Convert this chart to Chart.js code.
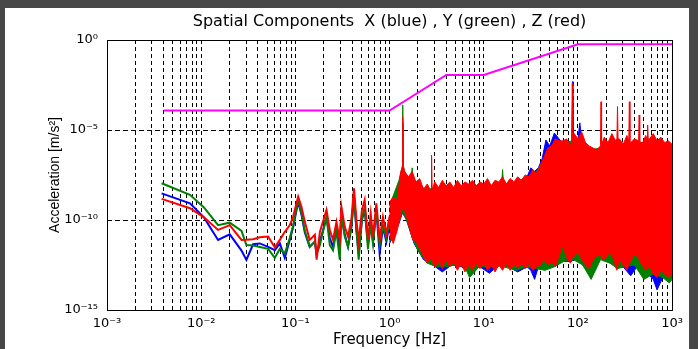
<!DOCTYPE html>
<html><head><meta charset="utf-8">
<script src="https://cdn.jsdelivr.net/npm/chart.js@4.4.1/dist/chart.umd.min.js"></script>
<style>
html,body{margin:0;padding:0;background:#474747;width:698px;height:349px;overflow:hidden}
#wrap{position:absolute;left:5px;top:8px;width:684px;height:341px;background:#fff}
canvas{display:block}
</style></head><body>
<div id="wrap"><canvas id="c" width="684" height="341"></canvas></div>
<script>
// ---- axes / ticks ----
const xDecades = [1e-3, 1e-2, 1e-1, 1, 10, 100, 1000];
const xTickLabels = ['10⁻³', '10⁻²', '10⁻¹', '10⁰', '10¹', '10²', '10³'];
const xMinorMantissas = [2, 3, 4, 5, 6, 7, 8, 9];
const yTickValues = [1e-15, 1e-10, 1e-5, 1];
const yTickLabels = ['10⁻¹⁵', '10⁻¹⁰', '10⁻⁵', '10⁰'];

// ---- limit curve (magenta) ----
const limitFreq = [0.004, 1, 4, 10, 100, 1000];
const limitAccel = [1.2e-4, 1.2e-4, 1.15e-2, 1.15e-2, 0.58, 0.58];

// ---- low-frequency traces (lines) ----
const lowFreq = [0.0038, 0.0076, 0.0107, 0.0151, 0.0201, 0.0268, 0.0302, 0.0356, 0.0419, 0.0514, 0.0605, 0.0684, 0.0773, 0.0873, 0.0946, 0.107, 0.116, 0.126, 0.142, 0.161, 0.168, 0.182, 0.214, 0.232, 0.251, 0.273, 0.296, 0.308, 0.334, 0.362, 0.394, 0.419, 0.445, 0.470, 0.509, 0.544, 0.590, 0.631, 0.667, 0.724, 0.785, 0.851, 0.925, 1.0];
const lowX = [3.0e-9, 8.5e-10, 1.4e-10, 7.8e-12, 1.6e-11, 2e-12, 6.0e-13, 4.5e-12, 5e-12, 3.2e-12, 2.1e-12, 5e-12, 7.9e-13, 7.9e-12, 4e-11, 1e-9, 2e-10, 2e-11, 3.2e-12, 6.3e-12, 1.3e-12, 6.3e-12, 1.3e-10, 1e-11, 3.2e-12, 3.2e-11, 2.5e-12, 2e-10, 1.6e-11, 3.3e-12, 4e-11, 2e-9, 2.5e-11, 1.3e-12, 1e-10, 4e-10, 5e-12, 5e-11, 6.3e-12, 3.2e-10, 1.4e-12, 4e-11, 6.3e-12, 6.3e-11];
const lowY = [1.1e-8, 2.5e-9, 5e-10, 5.2e-11, 7.1e-11, 2.5e-11, 4.1e-12, 3.8e-12, 3.2e-12, 2.5e-12, 7.9e-13, 2.5e-12, 1.4e-12, 1e-11, 5e-11, 1.3e-9, 2.5e-10, 2.5e-11, 3.3e-12, 6.3e-12, 1.3e-12, 4e-12, 1.6e-10, 4e-12, 2.1e-12, 2.5e-11, 6.3e-13, 1.6e-10, 1.3e-11, 3.2e-12, 5e-11, 2.5e-9, 3.2e-11, 6.3e-13, 1.3e-10, 5e-10, 2.5e-12, 6.3e-11, 5e-12, 4e-10, 4e-12, 5e-11, 1e-11, 1e-10];
const lowZ = [1.5e-9, 4.5e-10, 1.4e-10, 2.8e-11, 5.2e-11, 7.8e-12, 7.9e-12, 8.5e-12, 1.1e-11, 1.2e-11, 3.0e-12, 7.9e-12, 2.2e-11, 5.2e-11, 1.5e-10, 2.0e-9, 5.5e-10, 7.9e-11, 7.9e-12, 1.5e-11, 6.3e-13, 2.2e-11, 3.6e-10, 2.8e-11, 7.9e-12, 7.9e-11, 7.9e-12, 5.5e-10, 4.3e-11, 1.2e-11, 1.2e-10, 5.8e-9, 1.0e-10, 6.3e-12, 3.6e-10, 1.3e-9, 7.9e-12, 2.3e-10, 1.2e-11, 8.5e-10, 7.9e-12, 1.5e-10, 1.8e-11, 1.6e-10];

// ---- dense high-frequency spectrum: upper / lower envelopes ----
const bandFreqZ = [1.000, 1.096, 1.202, 1.318, 1.358, 1.380, 1.403, 1.445, 1.585, 1.738, 1.905, 2.089, 2.291, 2.512, 2.754, 2.793, 2.831, 3.020, 3.311, 3.631, 3.981, 4.365, 4.786, 5.248, 5.754, 6.310, 6.918, 7.586, 8.318, 9.120, 10.00, 10.96, 12.02, 13.18, 14.45, 15.85, 17.38, 19.05, 20.89, 22.91, 25.12, 27.54, 30.20, 33.11, 36.31, 39.81, 43.65, 47.86, 52.48, 57.54, 63.10, 69.18, 75.86, 83.18, 85.90, 87.10, 88.31, 91.20, 100.0, 109.6, 120.2, 131.8, 144.5, 158.5, 173.4, 175.8, 178.2, 190.5, 208.9, 229.1, 251.2, 259.4, 263.0, 266.7, 275.4, 302.0, 331.1, 346.7, 351.6, 356.5, 363.1, 398.1, 440.6, 446.7, 452.9, 478.6, 524.8, 542.0, 549.5, 557.2, 575.4, 631.0, 691.8, 758.6, 831.8, 912.0, 1000];
const zUpper = [1e-9, 2e-9, 1.3e-9, 5e-8, 7.9e-8, 5.5e-5, 1e-7, 5e-8, 2.5e-8, 5e-8, 1.3e-8, 2e-8, 5e-9, 1e-8, 4e-9, 4e-7, 5e-9, 1.3e-8,
  6.3e-9, 1.6e-8, 7.9e-9, 1.3e-8, 6.3e-9, 1.6e-8, 7.9e-9, 1.3e-8, 1e-8, 1.6e-8, 7.9e-9, 1.3e-8, 1e-8,
  2e-8, 7.9e-9, 1.6e-8, 1.3e-8, 2.5e-8, 1e-8, 2e-8, 1.3e-8, 2.5e-8, 1.6e-8, 3.2e-8, 2.5e-8, 6.3e-8, 4e-8, 1e-7, 3.2e-7, 1e-6, 1.3e-6, 3.2e-6, 2.5e-6, 2.5e-6, 3.2e-6, 1.3e-6,
  2e-6, 4e-3, 2.5e-6,
  6.3e-6, 3.2e-6, 7.9e-6, 2e-6, 1.3e-6, 1e-6, 7.9e-7,
  1.3e-6, 3.7e-4, 1.6e-6,
  4e-6, 2e-6, 6.3e-6, 2.5e-6,
  3.2e-6, 2e-4, 3.2e-6,
  3.2e-6, 1.6e-6, 5e-6,
  2.5e-6, 3.7e-4, 2.5e-6,
  2e-6, 3.2e-6,
  2.5e-6, 6.8e-5, 2.5e-6,
  1.6e-6, 5e-6,
  3.2e-6, 1.9e-5, 3.2e-6,
  3.2e-6, 6.3e-6, 2.5e-6, 4e-6, 2e-6, 2.5e-6, 1.6e-6];
const zLower = [1.3e-11, 5e-12, 2.5e-11, 2e-10, 4e-10, 6.3e-10, 5e-10, 3.2e-10, 6.3e-11, 1e-11, 6.3e-12, 2.5e-12, 1e-12, 4e-13, 7.9e-13, 6.3e-13, 5e-13, 2.5e-13,
  5e-13, 2e-13, 6.3e-13, 2.5e-13, 5e-13, 1.6e-13, 4e-13, 1.3e-13, 3.2e-13, 1.6e-13, 4e-13, 2e-13, 4e-13,
  1.6e-13, 3.2e-13, 1.3e-13, 3.2e-13, 1.6e-13, 4e-13, 1.6e-13, 3.2e-13, 2e-13, 4e-13, 2e-13, 4e-13, 1.6e-13, 2.5e-13, 3.2e-13, 6.3e-13, 3.2e-13, 5e-13, 2.5e-13, 1e-12, 4e-12, 7.9e-13, 4e-13,
  6.3e-13, 1e-12, 7.9e-13,
  1e-12, 1.6e-12, 6.3e-13, 3.2e-13, 2e-13, 6.3e-13, 1e-12,
  1.3e-12, 1e-12, 7.9e-13,
  6.3e-13, 1.3e-12, 1.3e-12, 2.5e-13,
  1.6e-13, 2.5e-13, 3.2e-13,
  6.3e-13, 3.2e-13, 1.6e-13,
  3.2e-13, 4e-13, 5e-13,
  5e-13, 1.3e-12,
  7.9e-13, 6.3e-13, 5e-13,
  3.2e-13, 1.6e-13,
  2e-13, 2.5e-13, 2.5e-13,
  2.5e-13, 1e-13, 6.3e-14, 1.6e-13, 1e-13, 6.3e-14, 1e-13];

const bandFreqX = [1.0, 1.259, 1.372, 1.380, 1.388, 1.514, 1.820, 2.291, 2.884, 3.631, 4.571, 5.754, 7.244, 9.120, 11.48, 14.45, 18.20, 22.91, 28.84, 31.62, 34.67, 38.02, 41.69, 45.71, 50.12, 56.23, 63.10, 72.44, 86.10, 88.10, 90.16, 100.0, 104.7, 109.6, 114.8, 131.8, 173.8, 229.1, 302.0, 363.1, 436.5, 524.8, 631.0, 691.8, 794.3, 1000];
const xUpper = [4e-10, 1e-8, 2.5e-8, 2.5e-5, 2.5e-8, 1.6e-8, 1e-8, 3.2e-9, 4e-9, 5e-9, 5e-9, 6.3e-9, 6.3e-9, 6.3e-9, 7.9e-9, 7.9e-9, 1e-8, 1.3e-8, 2.5e-8, 7.9e-8, 5e-8, 7.9e-8, 2.5e-7, 2.8e-6, 1.3e-6, 6.8e-6, 3.2e-6, 1.3e-6, 2.5e-6, 5e-3, 4e-6, 3.2e-6, 2.5e-5, 3.2e-6, 2.5e-6, 1e-6, 6.3e-7, 1.6e-6, 1.3e-6, 1.3e-6, 1.3e-6, 2e-6, 2.5e-6, 1.6e-6, 1.6e-6, 1.3e-6];
const xLower = [5e-12, 6.3e-11, 2.5e-10, 2.5e-10, 2.5e-10, 1e-10, 5e-12, 6.3e-13, 3.2e-13, 1.3e-13, 3.2e-13, 2.5e-13, 3.2e-13, 2.5e-13, 1.1e-13, 3.2e-13, 2.5e-13, 1.3e-13, 2.5e-13, 1.6e-13, 5e-14, 2.5e-13, 4e-13, 2.5e-13, 4e-13, 3.2e-13, 7.9e-13, 5e-13, 5e-13, 6.3e-13, 6.3e-13, 1e-12, 7.9e-13, 5e-13, 2.5e-13, 2e-13, 7.9e-13, 6.3e-13, 2.5e-13, 7.9e-14, 3.2e-13, 1.3e-13, 5e-14, 1.3e-14, 6.3e-14, 6.3e-14];

const bandFreqY = [1.0, 1.259, 1.365, 1.380, 1.396, 1.514, 1.700, 1.738, 1.778, 1.995, 2.512, 3.162, 3.981, 5.012, 6.310, 7.079, 8.913, 14.13, 15.49, 15.85, 16.22, 22.39, 28.18, 35.48, 44.67, 56.23, 70.79, 89.13, 112.2, 138.0, 173.8, 218.8, 263.0, 316.2, 398.1, 501.2, 631.0, 794.3, 933.3, 1000];
const yUpper = [6.3e-10, 1.6e-8, 1e-7, 2.5e-4, 1e-7, 2e-8, 2e-8, 7.9e-8, 2e-8, 7.9e-9, 5e-9, 6.3e-9, 6.3e-9, 6.3e-9, 7.9e-9, 7.9e-9, 6.3e-9, 1e-8, 1e-8, 6.3e-8, 1e-8, 1.3e-8, 2e-8, 4e-8, 3.2e-7, 1.6e-6, 2e-6, 2.5e-6, 2e-6, 7.9e-7, 1e-6, 1.6e-6, 2.5e-6, 1.6e-6, 2e-6, 2e-6, 2e-6, 2e-6, 1.6e-6, 1.3e-6];
const yLower = [6.3e-12, 7.9e-11, 2.5e-10, 3.2e-10, 2.5e-10, 1e-10, 1.6e-11, 1e-11, 7.9e-12, 2e-12, 4e-13, 2.5e-13, 2.5e-13, 3.2e-13, 2.5e-13, 6.3e-14, 2.5e-13, 2.5e-13, 3.2e-13, 2.5e-13, 2.5e-13, 1.6e-13, 2.5e-13, 2e-13, 1.6e-13, 2.5e-13, 5e-13, 6.3e-13, 3.2e-13, 5e-14, 6.3e-13, 4e-13, 2e-13, 2.5e-13, 3.2e-13, 5e-14, 1e-13, 6.3e-14, 3.2e-14, 5e-14];

// ---- colours ----
const BLUE = '#0000ff', GREEN = '#008000', RED = '#ff0000', MAGENTA = '#ff00ff';

const pts = (xs, ys) => xs.map((x, i) => ({x: x, y: ys[i]}));
const lineDs = (xs, ys, c, w) => ({data: pts(xs, ys), borderColor: c, backgroundColor: c, borderWidth: w, pointRadius: 0, fill: false, tension: 0});
const lowerDs = (xs, ys, c) => ({data: pts(xs, ys), borderColor: c, backgroundColor: c, borderWidth: 1, pointRadius: 0, fill: '-1', tension: 0});

const xTicks = [];
xDecades.forEach((d, i) => {
  xTicks.push(d);
  if (i < xDecades.length - 1) xMinorMantissas.forEach(m => xTicks.push(d * m));
});

const framePlugin = {
  id: 'frame',
  afterDraw(chart) {
    const {ctx, chartArea: a} = chart;
    ctx.save();
    ctx.strokeStyle = '#000';
    ctx.lineWidth = 1;
    ctx.setLineDash([]);
    ctx.strokeRect(Math.round(a.left) + 0.5, Math.round(a.top) + 0.5, Math.round(a.right - a.left), Math.round(a.bottom - a.top));
    ctx.restore();
  }
};

new Chart(document.getElementById('c'), {
  type: 'line',
  data: {
    datasets: [
      lineDs(limitFreq, limitAccel, MAGENTA, 2),
      lineDs(lowFreq, lowZ, RED, 2),
      lineDs(bandFreqZ, zUpper, RED, 1),
      lowerDs(bandFreqZ, zLower, RED),
      lineDs(lowFreq, lowY, GREEN, 2),
      lineDs(bandFreqY, yUpper, GREEN, 1),
      lowerDs(bandFreqY, yLower, GREEN),
      lineDs(lowFreq, lowX, BLUE, 2),
      lineDs(bandFreqX, xUpper, BLUE, 1),
      lowerDs(bandFreqX, xLower, BLUE)
    ]
  },
  options: {
    responsive: false,
    animation: false,
    devicePixelRatio: 1,
    events: [],
    layout: {padding: {left: 0, right: 16, top: 0, bottom: 0}},
    plugins: {
      legend: {display: false},
      tooltip: {enabled: false},
      title: {
        display: true,
        fullSize: false,
        text: 'Spatial Components  X (blue) , Y (green) , Z (red)',
        color: '#000',
        font: {family: 'DejaVu Sans', size: 16, weight: 'normal', lineHeight: 1.2},
        padding: {top: 4, bottom: 8.8}
      }
    },
    scales: {
      x: {
        type: 'logarithmic',
        min: 1e-3, max: 1e3,
        afterBuildTicks: s => { s.ticks = xTicks.map(v => ({value: v})); },
        afterFit: s => { s.height = 39; },
        grid: {color: '#000', lineWidth: 1, drawTicks: false},
        border: {display: false, dash: [4, 3]},
        ticks: {
          autoSkip: false, maxRotation: 0, minRotation: 0, padding: 6, color: '#000',
          font: {family: 'DejaVu Sans', size: 13},
          callback: v => {
            const i = xDecades.findIndex(d => Math.abs(Math.log10(v) - Math.log10(d)) < 1e-6);
            return i >= 0 ? xTickLabels[i] : '';
          }
        },
        title: {display: true, text: 'Frequency [Hz]', color: '#000', font: {family: 'DejaVu Sans', size: 15, lineHeight: 1}, padding: {top: 0, bottom: 1}}
      },
      y: {
        type: 'logarithmic',
        min: 1e-15, max: 1,
        afterBuildTicks: s => { s.ticks = yTickValues.map(v => ({value: v})); },
        afterFit: s => { s.width = 102; },
        grid: {color: '#000', lineWidth: 1, drawTicks: false},
        border: {display: false, dash: [5, 3]},
        ticks: {
          autoSkip: false, padding: 9, color: '#000',
          font: {family: 'DejaVu Sans', size: 13},
          callback: v => {
            const i = yTickValues.findIndex(t => Math.abs(Math.log10(v) - Math.log10(t)) < 1e-6);
            return i >= 0 ? yTickLabels[i] : '';
          }
        },
        title: {display: true, text: 'Acceleration [m/s²]', color: '#000', font: {family: 'Liberation Sans', size: 14, lineHeight: 1}, padding: {top: 43, bottom: 0}}
      }
    }
  },
  plugins: [framePlugin]
});
</script>
</body></html>
